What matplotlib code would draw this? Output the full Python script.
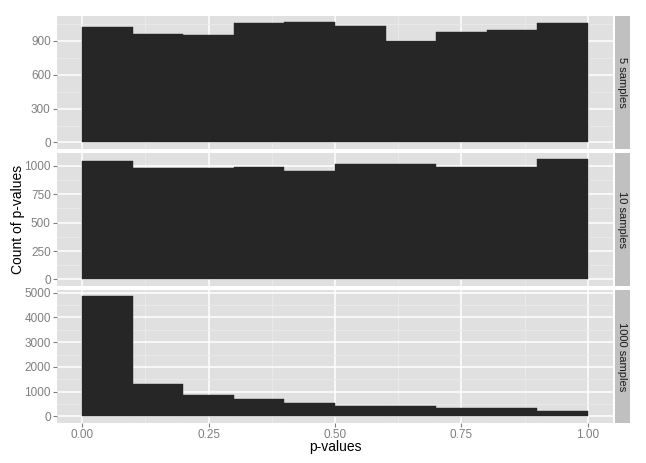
import numpy as np
import matplotlib
matplotlib.use("Agg")
import matplotlib.pyplot as plt
from matplotlib.ticker import MultipleLocator

plt.rcParams["font.family"] = ["Liberation Sans", "DejaVu Sans"]

# histogram bins (width 0.1)
bin_left = [0.0, 0.1, 0.2, 0.3, 0.4, 0.5, 0.6, 0.7, 0.8, 0.9]

# counts per bin for each facet
counts_5 = [1021, 962, 955, 1059, 1068, 1032, 903, 982, 994, 1059]
counts_10 = [1046, 980, 977, 991, 950, 1015, 1015, 985, 985, 1059]
counts_1000 = [4867, 1299, 857, 724, 551, 414, 412, 350, 348, 229]

facet_labels = ["5 samples", "10 samples", "1000 samples"]
y_steps = [300, 250, 1000]
x_ticks = [0.0, 0.25, 0.5, 0.75, 1.0]
x_ticklabels = ["0.00", "0.25", "0.50", "0.75", "1.00"]

W, H = 646, 463
fig = plt.figure(figsize=(W / 100, H / 100), dpi=100)

panel_bg = "#E0E0E0"
strip_bg = "#C0C0C0"
bar_col = "#262626"
tick_col = "#7F7F7F"

left_px, right_px = 57, 613
panel_tops = [16, 153, 290]
panel_h = 132.5

all_counts = [counts_5, counts_10, counts_1000]

for i, (counts, label, step) in enumerate(zip(all_counts, facet_labels, y_steps)):
    top = panel_tops[i]
    ax = fig.add_axes([left_px / W, 1 - (top + panel_h) / H,
                       (right_px - left_px) / W, panel_h / H])
    ax.set_facecolor(panel_bg)
    ax.bar(bin_left, counts, width=0.1, align="edge", color=bar_col,
           edgecolor=bar_col, linewidth=0.3, zorder=3)
    ymax = max(counts)
    ax.set_xlim(-0.05, 1.05)
    ax.set_ylim(-0.05 * ymax, 1.05 * ymax)

    ax.yaxis.set_major_locator(MultipleLocator(step))
    ax.yaxis.set_minor_locator(MultipleLocator(step / 2))
    ax.set_xticks(x_ticks)
    ax.set_xticks([0.125, 0.375, 0.625, 0.875], minor=True)

    ax.grid(which="major", color="white", linewidth=1.1, zorder=0)
    ax.grid(which="minor", color="#EAEAEA", linewidth=0.6, zorder=0)
    ax.set_axisbelow(True)

    for s in ax.spines.values():
        s.set_visible(False)

    ax.tick_params(which="major", length=3, width=0.8, color=tick_col,
                   labelcolor=tick_col, labelsize=8.5, pad=1.5)
    ax.tick_params(which="minor", length=0)

    if i < 2:
        ax.tick_params(axis="x", which="both", bottom=False, labelbottom=False)
    else:
        ax.set_xticklabels(x_ticklabels)

    # facet strip on the right
    sax = fig.add_axes([614.5 / W, 1 - (top + panel_h) / H, 15 / W, panel_h / H])
    sax.set_facecolor(strip_bg)
    sax.set_xticks([])
    sax.set_yticks([])
    for s in sax.spines.values():
        s.set_visible(False)
    sax.text(0.5, 0.5, label, rotation=-90, ha="center", va="center",
             fontsize=8, color="#1A1A1A", transform=sax.transAxes)

fig.text((left_px + right_px) / 2 / W, 1 - 447 / H, "p-values",
         ha="center", va="center", fontsize=10, color="black")
fig.text(18 / W, 1 - 219 / H, "Count of p-values", rotation=90,
         ha="center", va="center", fontsize=10, color="black")

fig.savefig("out.png", dpi=100, facecolor="white")
